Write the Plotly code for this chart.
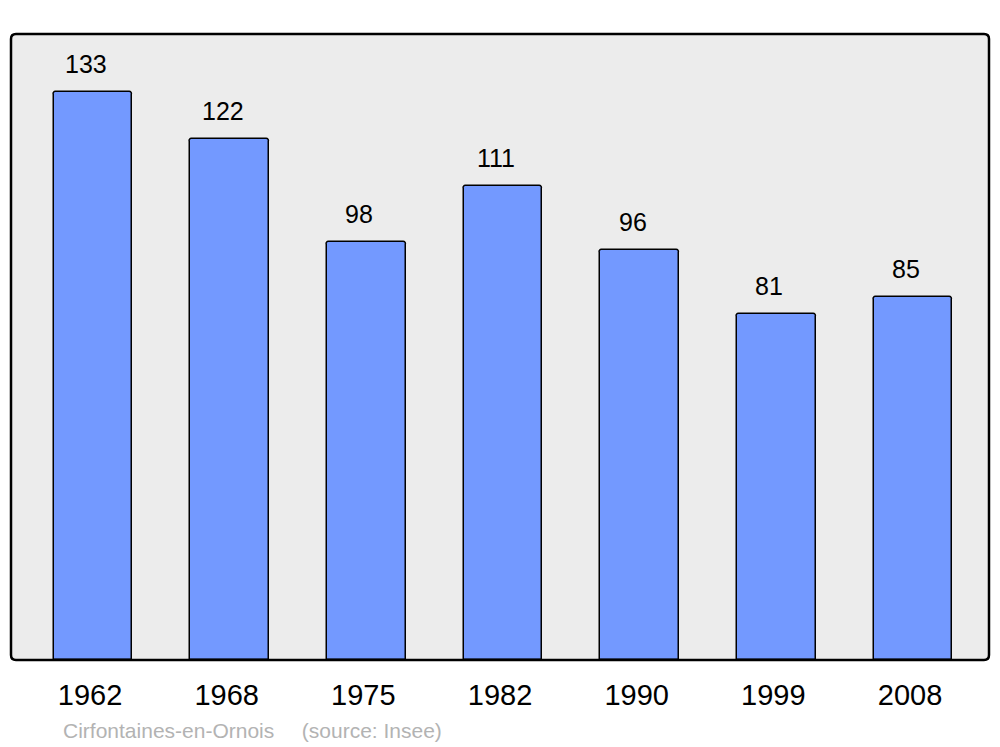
import plotly.graph_objects as go

years = ["1962", "1968", "1975", "1982", "1990", "1999", "2008"]
population = [133, 122, 98, 111, 96, 81, 85]
source_text = "Cirfontaines-en-Ornois" + "\u00a0" * 4 + "\u2009(source: Insee)"

FONT = "Liberation Sans, Arial, sans-serif"
x_pos = list(range(len(years)))

fig = go.Figure()
fig.add_trace(go.Bar(
    x=x_pos, y=population, width=0.575,
    marker=dict(color="#7399ff", line=dict(color="black", width=1.5), cornerradius=3),
    hoverinfo="skip",
))

for xi, v in zip(x_pos, population):
    fig.add_annotation(x=xi, y=v, text=str(v), showarrow=False,
                       yanchor="bottom", yshift=12, xshift=-7,
                       font=dict(family=FONT, size=25, color="black"))

fig.add_annotation(xref="paper", yref="paper", x=(61 - 11) / 978, y=-(730 - 660) / 626,
                   xanchor="left", yanchor="middle", text=source_text, showarrow=False,
                   font=dict(family=FONT, size=21, color="#b3b3b3"))

# rounded border of the plot area (paper coords)
rx, ry = 5 / 978, 5 / 626
path = (f"M {rx},0 L {1-rx},0 Q 1,0 1,{ry} L 1,{1-ry} Q 1,1 {1-rx},1 "
        f"L {rx},1 Q 0,1 0,{1-ry} L 0,{ry} Q 0,0 {rx},0 Z")
fig.add_shape(type="path", xref="paper", yref="paper", path=path,
              line=dict(color="black", width=2.5), layer="above")

fig.update_layout(
    width=1000, height=747,
    margin=dict(l=11, r=11, t=34, b=87),
    plot_bgcolor="#ececec", paper_bgcolor="white",
    showlegend=False,
    font=dict(family=FONT, color="black"),
    xaxis=dict(range=[-0.600, 6.556], tickmode="array", tickvals=x_pos, ticktext=years,
               showgrid=False, zeroline=False, showline=False, ticks="",
               tickfont=dict(size=29), ticklabelstandoff=15, ticklabelshift=-3,
               fixedrange=True),
    yaxis=dict(range=[0, 146.6], showgrid=False, zeroline=False, showline=False,
               showticklabels=False, ticks="", fixedrange=True),
    bargap=0,
)

fig.write_html("out.html", config={"displayModeBar": False},
               post_script="document.body.style.margin='0';document.body.style.padding='0';")
